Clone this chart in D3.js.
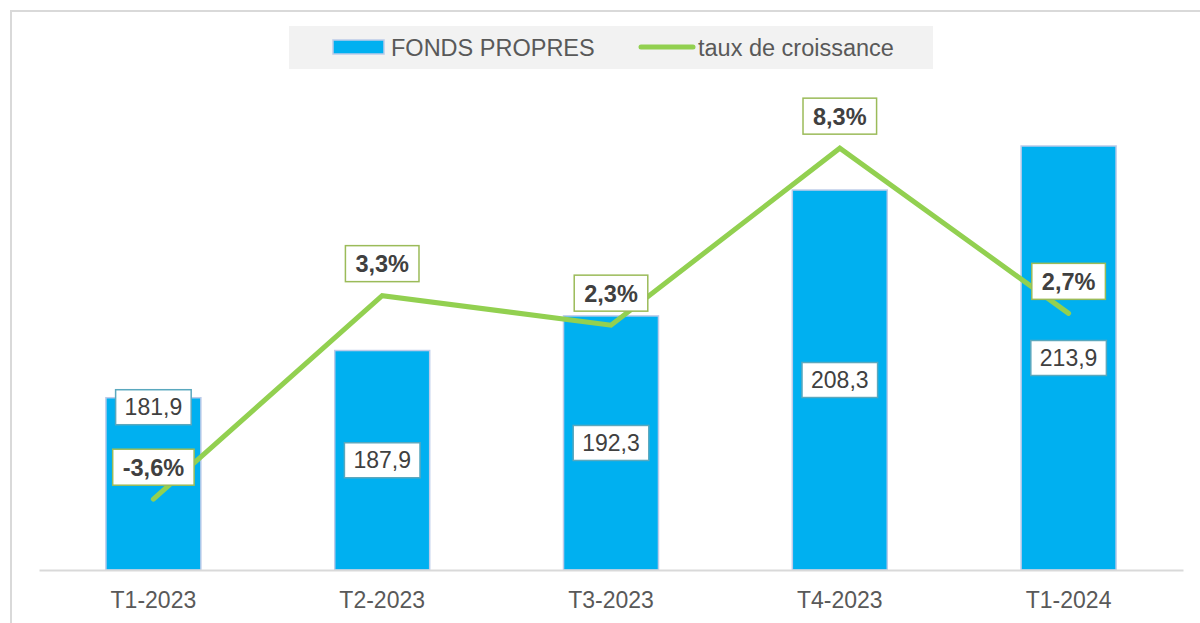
<!DOCTYPE html>
<html>
<head>
<meta charset="utf-8">
<script src="https://cdn.jsdelivr.net/npm/d3@7"></script>
<style>
  body { margin: 0; background: #fff; }
  svg { display: block; font-family: "Liberation Sans", Arial, sans-serif; }
</style>
</head>
<body>
<svg width="1200" height="623"></svg>
<script>
//data
var quarters = ["T1-2023", "T2-2023", "T3-2023", "T4-2023", "T1-2024"];
var fondsPropres = [181.9, 187.9, 192.3, 208.3, 213.9];
var croissance = [-3.6, 3.3, 2.3, 8.3, 2.7];
var legendNames = ["FONDS PROPRES", "taux de croissance"];

var svg = d3.select("svg"),
    width = +svg.attr("width"),
    height = +svg.attr("height");

var fmt = function (v, d) { return v.toFixed(d).replace(".", ","); };

//frame
svg.append("path")
    .attr("d", "M11,623 V11 H1200")
    .attr("fill", "none")
    .attr("stroke", "#d9d9d9")
    .attr("stroke-width", 2);

//scales
var x = d3.scaleBand()
    .domain(quarters)
    .range([39, 1183])
    .paddingInner(0.585)
    .paddingOuter(0.2925);
var yBar = d3.scaleLinear()
    .domain([160, 220])
    .range([570, 98]);
var yLine = d3.scaleLinear()
    .domain([-6, 10])
    .range([570, 98]);

//bars
svg.append("g").selectAll("rect")
    .data(fondsPropres)
    .enter().append("rect")
    .attr("x", (d, i) => x(quarters[i]))
    .attr("y", d => yBar(d))
    .attr("width", x.bandwidth())
    .attr("height", d => 570 - yBar(d))
    .attr("fill", "#00b0f0")
    .attr("stroke", "#bccbe9")
    .attr("stroke-width", 1.5);

//x axis
var gAxis = svg.append("g")
    .attr("transform", "translate(0,570)")
    .call(d3.axisBottom(x).tickSize(0).tickPadding(0));
gAxis.select(".domain").attr("stroke", "#d9d9d9").attr("stroke-width", 2);
gAxis.selectAll("text")
    .attr("y", 38)
    .attr("dy", 0)
    .attr("font-size", 23)
    .attr("font-family", "Liberation Sans, Arial, sans-serif")
    .attr("fill", "#595959");

//value labels
var cx = d => x(d) + x.bandwidth() / 2;
var gVal = svg.append("g");
fondsPropres.forEach(function (v, i) {
    var top = yBar(v),
        cy = i === 0 ? top + 9.5 : (top + 570) / 2;
    var g = gVal.append("g").attr("transform", "translate(" + [cx(quarters[i]), cy] + ")");
    var r = g.append("rect");
    var t = g.append("text")
        .attr("text-anchor", "middle")
        .attr("y", 8)
        .attr("font-size", 23)
        .attr("fill", "#404040")
        .text(fmt(v, 1));
    var w = t.node().getComputedTextLength() + 18;
    r.attr("x", -w / 2).attr("y", -17.5).attr("width", w).attr("height", 35)
        .attr("fill", "#fff").attr("stroke", "#5aa8be").attr("stroke-width", 1.5);
});

//line
var line = d3.line()
    .x((d, i) => cx(quarters[i]))
    .y(d => yLine(d));
svg.append("path")
    .datum(croissance)
    .attr("d", line)
    .attr("fill", "none")
    .attr("stroke", "#92d050")
    .attr("stroke-width", 5)
    .attr("stroke-linecap", "round")
    .attr("stroke-linejoin", "miter");

//growth labels
var gPct = svg.append("g");
croissance.forEach(function (v, i) {
    var g = gPct.append("g").attr("transform", "translate(" + [cx(quarters[i]), yLine(v) - 32] + ")");
    var r = g.append("rect");
    var t = g.append("text")
        .attr("text-anchor", "middle")
        .attr("y", 8.5)
        .attr("font-size", 23.5)
        .attr("font-weight", "bold")
        .attr("fill", "#404040")
        .text(fmt(v, 1) + "%");
    var w = t.node().getComputedTextLength() + 20;
    r.attr("x", -w / 2).attr("y", -18).attr("width", w).attr("height", 36)
        .attr("fill", "#fff").attr("stroke", "#9bbb59").attr("stroke-width", 1.5);
});

//legend
var gLeg = svg.append("g");
gLeg.append("rect")
    .attr("x", 289).attr("y", 26).attr("width", 644).attr("height", 43)
    .attr("fill", "#f2f2f2");
gLeg.append("rect")
    .attr("x", 333).attr("y", 40).attr("width", 51).attr("height", 14)
    .attr("fill", "#00b0f0").attr("stroke", "#bccbe9").attr("stroke-width", 1.5);
gLeg.append("text")
    .attr("x", 391).attr("y", 56)
    .attr("font-size", 23.5)
    .attr("fill", "#595959")
    .text(legendNames[0]);
gLeg.append("line")
    .attr("x1", 641).attr("x2", 693).attr("y1", 47).attr("y2", 47)
    .attr("stroke", "#92d050").attr("stroke-width", 5).attr("stroke-linecap", "round");
gLeg.append("text")
    .attr("x", 698).attr("y", 56)
    .attr("font-size", 23.5)
    .attr("fill", "#595959")
    .text(legendNames[1]);
</script>
</body>
</html>
